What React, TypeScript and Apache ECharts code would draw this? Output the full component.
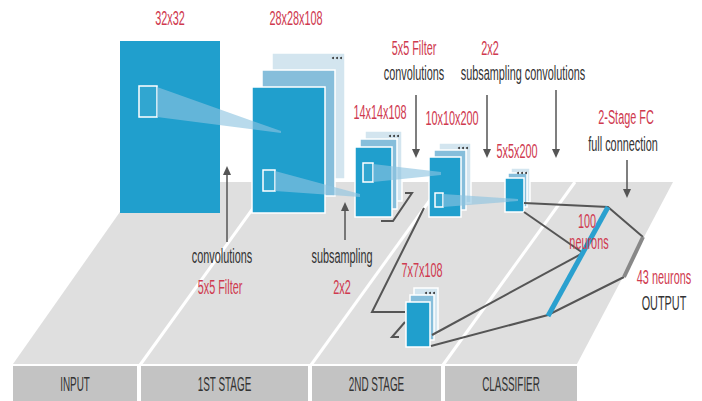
import React, { useEffect, useRef } from "react";
import * as echarts from "echarts";

// ---- data (labels / values) ----
const stageLabels = ["INPUT", "1ST STAGE", "2ND STAGE", "CLASSIFIER"];
const layerSizeLabels = ["32x32", "28x28x108", "14x14x108", "10x10x200", "5x5x200", "7x7x108"];
const topOpRed = ["5x5 Filter", "2x2", "2-Stage FC"];
const topOpBlack = ["convolutions", "subsampling convolutions", "full connection"];
const bottomOpBlack = ["convolutions", "subsampling"];
const bottomOpRed = ["5x5 Filter", "2x2"];
const neuronLabels = ["100", "neurons", "43 neurons", "OUTPUT"];

const RED = "#cf3a4f";
const DARK = "#333333";
const BLUE = "#209fcd";
const MID = "#86bedb";
const LIGHT = "#d3e5ef";
const FONT = "'Liberation Sans', Arial, sans-serif";

function txt(s: string, x: number, y: number, color: string, size = 16, sx = 0.68, sy = 1.3) {
  return {
    type: "text",
    x,
    y,
    scaleX: sx,
    scaleY: sy,
    z: 50,
    style: {
      text: s,
      fill: color,
      fontSize: size,
      fontFamily: FONT,
      align: "center",
      verticalAlign: "middle",
      textAlign: "center",
      textVerticalAlign: "middle",
    },
  };
}

function rect(x: number, y: number, w: number, h: number, fill: string, stroke?: string, lw = 1.5, z = 10) {
  return {
    type: "rect",
    z,
    shape: { x, y, width: w, height: h },
    style: { fill, stroke: stroke || null, lineWidth: stroke ? lw : 0 },
  };
}

function poly(points: number[][], fill: string, z = 5) {
  return { type: "polygon", z, shape: { points }, style: { fill } };
}

function pline(points: number[][], stroke: string, lw = 2, z = 20) {
  return { type: "polyline", z, shape: { points }, style: { stroke, lineWidth: lw, fill: null } };
}

function dots(x: number, y: number, z = 15) {
  return [0, 4, 8].map((d) => ({
    type: "circle",
    z,
    shape: { cx: x + d, cy: y, r: 1 },
    style: { fill: "#333" },
  }));
}

function stack(x: number, y: number, w: number, h: number, dx: number, dy: number, z: number) {
  return [
    rect(x + 2 * dx, y - 2 * dy, w, h, LIGHT, "#ffffff", 1.5, z),
    rect(x + dx, y - dy, w, h, MID, "#ffffff", 1.5, z + 1),
    rect(x, y, w, h, BLUE, "#ffffff", 1.5, z + 2),
    ...dots(x + 2 * dx + w - 12, y - 2 * dy + 5, z + 1),
  ];
}

function arrowDown(x: number, y1: number, y2: number) {
  return [
    pline([[x, y1], [x, y2 - 7]], "#555", 1.5, 30),
    poly([[x - 4, y2 - 9], [x + 4, y2 - 9], [x, y2]], "#555", 30),
  ];
}

function arrowUp(x: number, y1: number, yHead: number) {
  return [
    pline([[x, y1], [x, yHead + 7]], "#555", 1.5, 30),
    poly([[x - 4, yHead + 9], [x + 4, yHead + 9], [x, yHead]], "#555", 30),
  ];
}

const CONE = "rgba(140,195,225,0.62)";

export default function App() {
  const ref = useRef<HTMLDivElement>(null);
  useEffect(() => {
    document.body.style.margin = "0";
    const chart = echarts.init(ref.current!, null, { renderer: "svg" });
    const bars = [
      [13, 137],
      [141, 308],
      [312, 441],
      [445, 577],
    ];
    const graphic: any[] = [
      // floor
      poly([[13, 364], [577, 364], [673, 182], [141, 182]], "#dfdfdf", 1),
      pline([[140, 365], [272, 182]], "#ffffff", 3, 2),
      pline([[311, 365], [443, 182]], "#ffffff", 3, 2),
      pline([[443, 365], [575, 182]], "#ffffff", 3, 2),
      // stage bar
      ...bars.map(([a, b]) => rect(a, 366, b - a, 40, "#c3c3c3", undefined, 0, 3)),
      ...stageLabels.map((s, i) => txt(s, (bars[i][0] + bars[i][1]) / 2, 384, "#333", 15, 0.66, 1.3)),
      // input
      rect(120, 41, 100, 172, BLUE, undefined, 0, 10),
      rect(139, 86, 18, 31, "rgba(255,255,255,0.08)", "#ffffff", 1.5, 11),
      // layer 1
      ...stack(252, 87, 73, 126, 10, 17, 12),
      rect(263, 170, 12, 21, "rgba(255,255,255,0.08)", "#ffffff", 1.5, 16),
      poly([[157, 87], [157, 117], [281, 133], [281, 131]], CONE, 17),
      // layer 2
      ...stack(355, 147, 37, 70, 5, 8, 12),
      rect(363, 163, 10, 19, "rgba(255,255,255,0.08)", "#ffffff", 1.5, 16),
      poly([[275, 171], [275, 191], [360, 197], [360, 194]], CONE, 17),
      // layer 3
      ...stack(429, 157, 32, 60, 5, 7, 12),
      rect(435, 193, 8, 14, "rgba(255,255,255,0.08)", "#ffffff", 1.5, 16),
      poly([[373, 164], [373, 182], [441, 175], [441, 172]], CONE, 17),
      // layer 4
      ...stack(505, 178, 19, 34, 3, 5, 12),
      poly([[443, 194], [443, 207], [518, 201], [518, 199]], CONE, 17),
      // layer 5 (7x7x108)
      ...stack(406, 302, 24, 45, 4, 7, 12),
      // connection lines
      pline([[405, 193], [412, 193], [393, 221], [381, 221]], "#555", 2, 11),
      pline([[424, 208], [372, 312], [405, 312]], "#555", 2, 11),
      pline([[405, 322], [392, 337], [399, 337]], "#555", 2, 11),
      pline([[524, 203], [608, 207], [643, 237]], "#555", 2, 20),
      pline([[524, 212], [583, 253]], "#555", 2, 20),
      pline([[432, 335], [583, 253]], "#555", 2, 20),
      pline([[431, 346], [548, 315], [624, 277]], "#555", 2, 20),
      pline([[643, 237], [624, 277]], "#888", 4, 21),
      pline([[608, 207], [548, 316]], "#2aa0cf", 5, 22),
      // arrows
      ...arrowDown(416, 95, 158),
      ...arrowDown(487, 95, 158),
      ...arrowDown(556, 90, 158),
      ...arrowDown(627, 160, 198),
      ...arrowUp(227, 242, 166),
      ...arrowUp(345, 240, 202),
      // layer size labels
      txt(layerSizeLabels[0], 170, 18, RED),
      txt(layerSizeLabels[1], 296, 18, RED),
      txt(layerSizeLabels[2], 380, 112, RED),
      txt(layerSizeLabels[3], 452, 118, RED),
      txt(layerSizeLabels[4], 517, 151, RED),
      txt(layerSizeLabels[5], 422, 270, RED),
      // top operation labels
      txt(topOpRed[0], 414, 48, RED),
      txt(topOpBlack[0], 414, 73, DARK),
      txt(topOpRed[1], 490, 48, RED),
      txt(topOpBlack[1], 523, 73, DARK),
      txt(topOpRed[2], 626, 117, RED),
      txt(topOpBlack[2], 623, 144, DARK),
      // bottom operation labels
      txt(bottomOpBlack[0], 222, 256, DARK),
      txt(bottomOpRed[0], 220, 287, RED),
      txt(bottomOpBlack[1], 342, 256, DARK),
      txt(bottomOpRed[1], 342, 287, RED),
      // classifier labels
      txt(neuronLabels[0], 587, 221, RED),
      txt(neuronLabels[1], 589, 242, RED),
      txt(neuronLabels[2], 664, 277, RED),
      txt(neuronLabels[3], 664, 303, DARK),
    ];
    chart.setOption({
      animation: false,
      backgroundColor: "#ffffff",
      graphic: { elements: graphic },
    });
    return () => chart.dispose();
  }, []);
  return <div ref={ref} style={{ position: "fixed", left: 0, top: 0, width: 702, height: 401 }} />;
}
